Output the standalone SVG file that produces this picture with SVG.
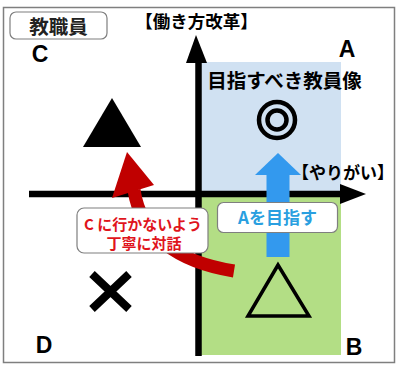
<svg xmlns="http://www.w3.org/2000/svg" width="398" height="365" viewBox="0 0 398 365">
<style>
text{font-family:"Noto Sans CJK JP","Noto Sans",sans-serif;font-weight:bold}
.lbl{font-family:"Liberation Sans",Arial,sans-serif;font-size:23px;fill:#000}
.box{fill:#fff;stroke:#7f7f7f;stroke-width:1.2}
</style>
<rect x="0" y="0" width="398" height="365" fill="#fff"/>
<rect x="3.5" y="7.5" width="391" height="355" fill="#fff" stroke="#7f7f7f" stroke-width="1.5"/>
<g id="quadrantA"><rect x="201" y="62" width="140" height="131" fill="#d0e1f2"/></g>
<g id="quadrantB"><rect x="201" y="197" width="140" height="158" fill="#b3de85"/></g>
<g id="connectors">
<line x1="29" y1="194" x2="342" y2="194" stroke="#000" stroke-width="6.5"/>
<polygon points="340,184 366,194 340,204" fill="#000"/>
<line x1="198.5" y1="356" x2="198.5" y2="60" stroke="#000" stroke-width="6.5"/>
<polygon points="186,63 196,35 207,63" fill="#000"/>
<rect x="266.5" y="173" width="23" height="84" fill="#3399ee"/>
<polygon points="255,175 278,153 301,175" fill="#3399ee"/>
<path d="M234 271 C178 262 141 236 134 190" fill="none" stroke="#c00000" stroke-width="13"/>
<polygon points="127,152 112,198 154,185" fill="#c00000"/>
</g>
<g id="label-staff"><rect x="10" y="12" width="97" height="27" rx="6" class="box"/><text x="58.5" y="33.5" text-anchor="middle" font-size="19.5" fill="#222">教職員</text></g>
<g id="axis-y-label"><text x="196.5" y="27.5" text-anchor="middle" font-size="17.5">【働き方改革】</text></g>
<g id="axis-x-label"><text x="394" y="179" text-anchor="end" font-size="17">【やりがい】</text></g>
<g id="A"><text x="347" y="57" text-anchor="middle" class="lbl">A</text></g>
<g id="B"><text x="354" y="355" text-anchor="middle" class="lbl">B</text></g>
<g id="C"><text x="40" y="62" text-anchor="middle" class="lbl">C</text></g>
<g id="D"><text x="44" y="353" text-anchor="middle" class="lbl">D</text></g>
<g id="ideal"><text x="284.5" y="88" text-anchor="middle" font-size="19.5">目指すべき教員像</text></g>
<g id="double-circle"><circle cx="277" cy="120" r="18" fill="none" stroke="#000" stroke-width="4.5"/><circle cx="277" cy="120" r="9.5" fill="none" stroke="#000" stroke-width="4.5"/></g>
<g id="black-triangle"><polygon points="112,98 83,147 141,147" fill="#000"/></g>
<g id="outline-triangle"><polygon points="278,265 248,316 309,316" fill="none" stroke="#000" stroke-width="3.5" stroke-linejoin="miter"/></g>
<g id="cross"><path d="M92 274 L129 309 M129 274 L92 309" stroke="#000" stroke-width="8"/></g>
<g id="label-aim-A"><rect x="217.5" y="202.5" width="120" height="30" rx="6" class="box"/><text x="277.5" y="224" text-anchor="middle" font-size="17" fill="#2a9fe0">Aを目指す</text></g>
<g id="label-dialogue"><rect x="77" y="208" width="131" height="45" rx="7" class="box"/><text x="143" y="230" text-anchor="middle" font-size="15" fill="#e0141c">C に行かないよう</text><text x="144" y="249" text-anchor="middle" font-size="15" fill="#e0141c">丁寧に対話</text></g>
</svg>
